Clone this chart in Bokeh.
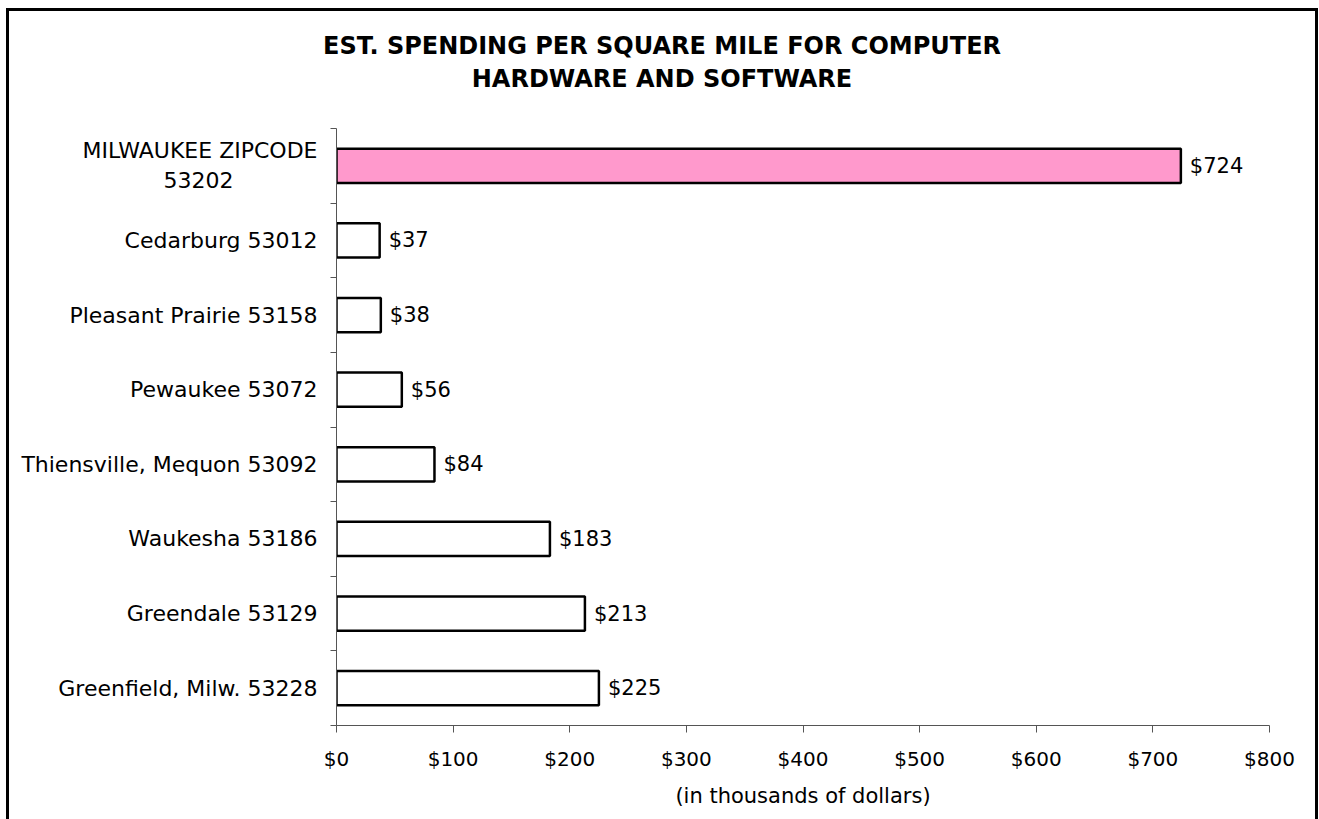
from bokeh.plotting import figure
from bokeh.layouts import column
from bokeh.models import Range1d, FixedTicker, LabelSet, ColumnDataSource, Div
from bokeh.core.properties import value
from bokeh.embed import file_html
from bokeh.resources import INLINE

# ---- data (top to bottom) ----
categories = [
    "MILWAUKEE ZIPCODE\n53202",
    "Cedarburg 53012",
    "Pleasant Prairie 53158",
    "Pewaukee 53072",
    "Thiensville, Mequon 53092",
    "Waukesha 53186",
    "Greendale 53129",
    "Greenfield, Milw. 53228",
]
values = [724, 37, 38, 56, 84, 183, 213, 225]
bar_colors = ["#FF99CC", "#FFFFFF", "#FFFFFF", "#FFFFFF", "#FFFFFF", "#FFFFFF", "#FFFFFF", "#FFFFFF"]
x_ticks = [0, 100, 200, 300, 400, 500, 600, 700, 800]
x_tick_labels = ["$0", "$100", "$200", "$300", "$400", "$500", "$600", "$700", "$800"]
title_lines = ["EST. SPENDING PER SQUARE MILE FOR COMPUTER", "HARDWARE AND SOFTWARE"]
x_axis_title = "(in thousands of dollars)"

FONT = "DejaVu Sans"
n = len(categories)
centers = [i + 0.5 for i in range(n)]
boundaries = [i for i in range(n + 1)]


def centre_lines(label):
    # the axis right-aligns the lines of a multi-line label; pad the
    # shorter lines with no-break spaces so they sit centred under the first
    lines = label.split("\n")
    if len(lines) == 1:
        return label
    longest = max(len(l) for l in lines)
    out = [lines[0]]
    for l in lines[1:]:
        out.append(l + "\u00a0" * (longest - len(l)))
    return "\n".join(out)


src = ColumnDataSource(dict(
    y=centers,
    value=values,
    color=bar_colors,
    label=["$%d" % v for v in values],
))

p = figure(
    width=1306, height=701,
    x_range=Range1d(0, 800), y_range=Range1d(n, 0),
    output_backend="svg", toolbar_location=None,
    min_border_left=327, min_border_right=46,
    min_border_top=10, min_border_bottom=94,
)
p.background_fill_color = "white"
p.border_fill_color = "white"
p.outline_line_color = None
p.xgrid.visible = False
p.ygrid.visible = False

p.hbar(y="y", left=0, right="value", height=0.46, fill_color="color",
       line_color="black", line_width=2.5, source=src)

labels = LabelSet(x="value", y="y", text="label", source=src, x_offset=9,
                  text_align="left", text_baseline="middle",
                  text_font=value(FONT), text_font_size=value("21px"),
                  text_color="black")
p.add_layout(labels)

# x axis
xa = p.xaxis[0]
xa.ticker = FixedTicker(ticks=x_ticks, minor_ticks=[])
xa.major_label_overrides = {t: l for t, l in zip(x_ticks, x_tick_labels)}
xa.axis_line_color = "#555555"
xa.major_tick_line_color = "#555555"
xa.major_tick_out = 7
xa.major_tick_in = 0
xa.minor_tick_line_color = None
xa.major_label_text_font = FONT
xa.major_label_text_font_size = "20px"
xa.major_label_text_color = "black"
xa.major_label_standoff = 14
xa.axis_label = x_axis_title
xa.axis_label_text_font = FONT
xa.axis_label_text_font_size = "21px"
xa.axis_label_text_font_style = "normal"
xa.axis_label_text_color = "black"
xa.axis_label_standoff = 10

# y axis
ya = p.yaxis[0]
ya.ticker = FixedTicker(ticks=centers, minor_ticks=boundaries)
ya.major_label_overrides = {c: centre_lines(l) for c, l in zip(centers, categories)}
ya.axis_line_color = "#555555"
ya.major_tick_line_color = None
ya.major_tick_out = 0
ya.major_tick_in = 0
ya.minor_tick_line_color = "#555555"
ya.minor_tick_out = 6
ya.minor_tick_in = 0
ya.major_label_text_font = FONT
ya.major_label_text_font_size = "22px"
ya.major_label_text_color = "black"
ya.major_label_text_line_height = 1.2
ya.major_label_standoff = 13

# title block
title_html = (
    '<div style="width:1306px;text-align:center;font-family:\'DejaVu Sans\';'
    'font-weight:bold;font-size:24px;line-height:33px;padding-top:19px;color:black;">'
    + "<br>".join(title_lines) + "</div>"
)
title_div = Div(text=title_html, width=1306, height=107, margin=0)

layout = column(
    title_div, p, spacing=0,
    styles={
        "margin-left": "6px",
        "margin-top": "8px",
        "border-top": "3px solid black",
        "border-left": "3px solid black",
        "border-right": "3px solid black",
        "background": "white",
    },
)

open("out.html", "w").write(file_html(layout, INLINE))
